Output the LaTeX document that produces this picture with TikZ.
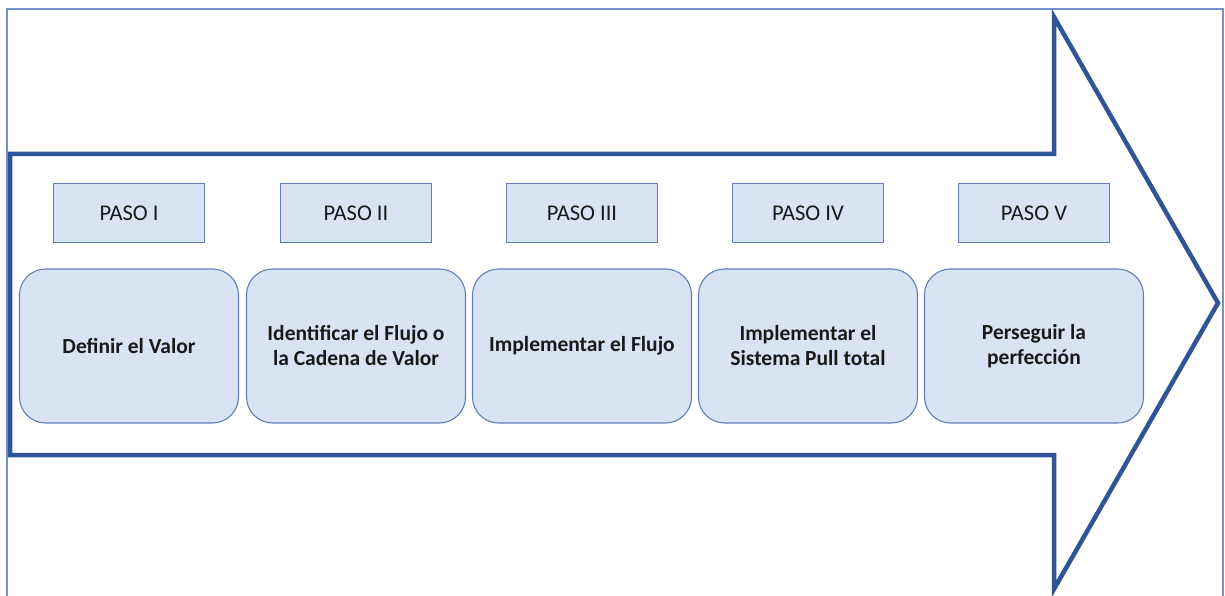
\documentclass[tikz,border=0pt]{standalone}
\usepackage{fontspec}
\setmainfont{Carlito}
\usepackage{tikz}

\definecolor{arrowblue}{RGB}{47,85,151}
\definecolor{frameblue}{RGB}{114,146,204}
\definecolor{boxline}{RGB}{98,126,184}
\definecolor{boxfill}{RGB}{218,227,243}
\definecolor{txt}{RGB}{25,25,25}

\tikzset{
  pasobox/.style={shape=rectangle, draw=boxline, fill=boxfill, line width=1.1pt,
    minimum width=151pt, minimum height=59pt, inner sep=0pt, text=txt,
    font=\fontsize{22.5}{27}\selectfont},
  stepcard/.style={shape=rectangle, rounded corners=26pt, draw=boxline, fill=boxfill,
    line width=1.1pt, minimum width=219pt, minimum height=154pt, inner sep=0pt,
    text=txt, align=center, font=\bfseries\fontsize{21.5}{25}\selectfont}
}

\begin{document}
\begin{tikzpicture}[x=1pt, y=-1pt]
            \useasboundingbox (0,0) rectangle (1225,596);

            % outer frame (open at the bottom)
            \draw[frameblue, line width=1.2pt] (7,596) -- (7,9) -- (1223,9) -- (1223,596);

            % big arrow
            \draw[arrowblue, line width=4.5pt, line join=miter]
                (10,154) -- (1054,154) -- (1054,17) -- (1218,303) -- (1054,589) -- (1054,455) -- (10,455) -- cycle;

            \node[pasobox] (P1) at (129, 213) {PASO I};
            \node[pasobox] (P2) at (356, 213) {PASO II};
            \node[pasobox] (P3) at (582, 213) {PASO III};
            \node[pasobox] (P4) at (808, 213) {PASO IV};
            \node[pasobox] (P5) at (1034, 213) {PASO V};

            \node[stepcard] (S1) at (129, 346) {Definir el Valor};
            \node[stepcard] (S2) at (356, 346) {Identificar el Flujo o\\la Cadena de Valor};
            \node[stepcard] (S3) at (582, 346) {Implementar el Flujo};
            \node[stepcard] (S4) at (808, 346) {Implementar el\\Sistema Pull total};
            \node[stepcard] (S5) at (1034, 346) {Perseguir la\\perfección};
        \end{tikzpicture}
\end{document}
